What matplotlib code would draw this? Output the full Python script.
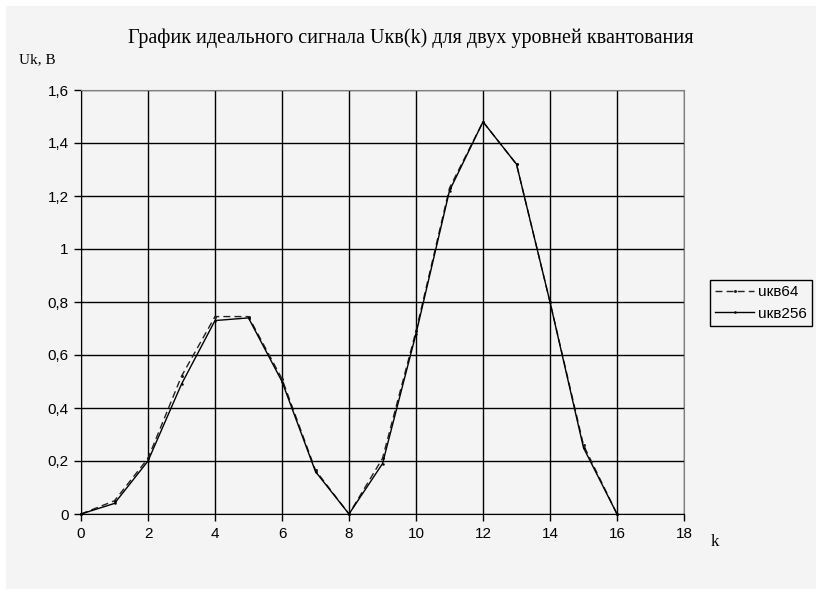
import matplotlib
matplotlib.use("Agg")
import matplotlib.pyplot as plt
from matplotlib.ticker import FuncFormatter, MultipleLocator
from matplotlib.patches import Rectangle

k = list(range(17))
u64 = [0, 0.05, 0.21, 0.52, 0.745, 0.745, 0.51, 0.165, 0.0, 0.21, 0.69, 1.23, 1.48, 1.32, 0.8, 0.26, 0]
u256 = [0, 0.04, 0.20, 0.49, 0.73, 0.74, 0.50, 0.16, 0.0, 0.19, 0.68, 1.22, 1.48, 1.32, 0.8, 0.25, 0]

title = "График идеального сигнала Uкв(k) для двух уровней квантования"
ylabel = "Uk, В"
xlabel = "k"
labels = ["uкв64", "uкв256"]

W, H = 822, 595
fig = plt.figure(figsize=(W / 100, H / 100), dpi=100)
fig.patch.set_facecolor("white")
bg = "#f4f4f4"
fig.patches.append(Rectangle((6 / W, 6 / H), (816 - 6) / W, (589 - 6) / H,
                             transform=fig.transFigure, facecolor=bg, edgecolor="none",
                             zorder=-10))

ax = fig.add_axes([81 / W, 1 - 514 / H, (684 - 81) / W, (514 - 90) / H])
ax.set_facecolor(bg)
ax.set_xlim(0, 18)
ax.set_ylim(0, 1.6)
ax.xaxis.set_major_locator(MultipleLocator(2))
ax.yaxis.set_major_locator(MultipleLocator(0.2))

def comma(v, pos):
    s = ("%.1f" % v).rstrip("0").rstrip(".")
    return s.replace(".", ",")

ax.yaxis.set_major_formatter(FuncFormatter(comma))
ax.xaxis.set_major_formatter(FuncFormatter(lambda v, p: "%d" % v))
ax.grid(True, color="black", linewidth=1.0)
ax.set_axisbelow(True)
for s in ["top", "right"]:
    ax.spines[s].set_color("#808080")
for s in ["left", "bottom"]:
    ax.spines[s].set_color("black")
ax.tick_params(axis="both", direction="out", length=5, width=1, color="black",
               labelsize=11, pad=4)
for lab in ax.get_xticklabels() + ax.get_yticklabels():
    lab.set_fontfamily("Liberation Sans")

l1, = ax.plot(k, u64, color="#222222", linestyle=(0, (5, 3)), linewidth=1.0,
              marker="o", markersize=1.2, label=labels[0], clip_on=False)
l2, = ax.plot(k, u256, color="black", linestyle="-", linewidth=1.0,
              marker="o", markersize=0.8, label=labels[1], clip_on=False)

fig.text(411 / W, 1 - 38 / H, title, ha="center", va="center",
         fontsize=14.5, family="Liberation Serif")
fig.text(19 / W, 1 - 60 / H, ylabel, ha="left", va="center",
         fontsize=11, family="Liberation Serif")
fig.text(715 / W, 1 - 542 / H, xlabel, ha="center", va="center",
         fontsize=12, family="Liberation Serif")

leg = fig.legend(handles=[l1, l2], loc="center left",
                 bbox_to_anchor=(707 / W, 1 - 303 / H), frameon=True,
                 fancybox=False, edgecolor="black", facecolor=bg, framealpha=1,
                 prop={"family": "Liberation Sans", "size": 11},
                 handlelength=2.5, handletextpad=0.3, borderpad=0.35,
                 borderaxespad=0.2, labelspacing=0.5)
leg.get_frame().set_linewidth(1.0)

fig.savefig("out.png", dpi=100, facecolor="white")
